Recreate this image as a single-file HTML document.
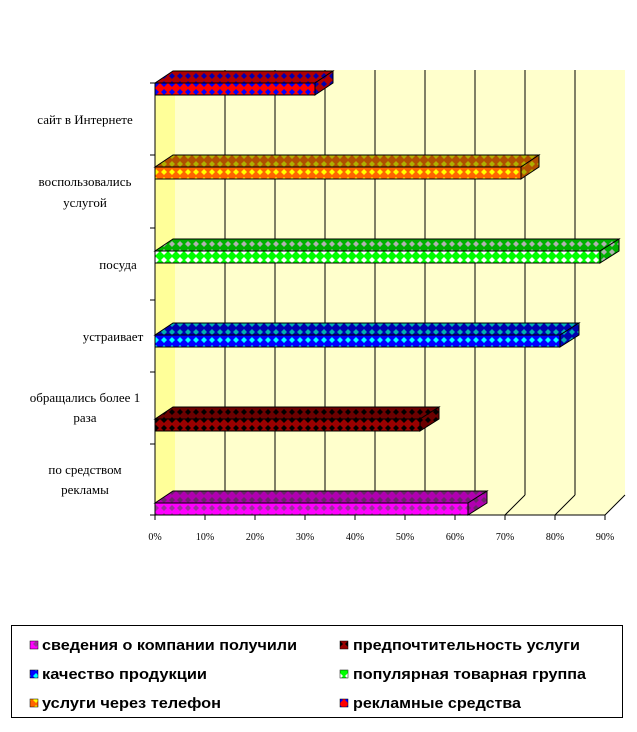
<!DOCTYPE html>
<html><head><meta charset="utf-8"><style>
body{margin:0;background:#fff;width:637px;height:732px;overflow:hidden}
svg{display:block}
.c{font-family:"Liberation Serif",serif;font-size:13px;fill:#000}
.t{font-family:"Liberation Serif",serif;font-size:10px;fill:#000}
.l{font-family:"Liberation Sans",sans-serif;font-size:15px;font-weight:bold;fill:#000}
</style></head><body>
<svg width="637" height="732" viewBox="0 0 637 732">
<defs>
<pattern id="pr" width="8" height="8" patternUnits="userSpaceOnUse"><rect width="8" height="8" fill="#ff0000"/><path d="M4 1L7 4L4 7L1 4Z" fill="#0000ff"/></pattern>
<pattern id="pr2" width="8" height="8" patternUnits="userSpaceOnUse"><rect width="8" height="8" fill="#b00000"/><path d="M4 1L7 4L4 7L1 4Z" fill="#0000b0"/></pattern>
<pattern id="po" width="8" height="8" patternUnits="userSpaceOnUse"><rect width="8" height="8" fill="#ff6600"/><path d="M4 1L7 4L4 7L1 4Z" fill="#ffff00"/></pattern>
<pattern id="po2" width="8" height="8" patternUnits="userSpaceOnUse"><rect width="8" height="8" fill="#b05000"/><path d="M4 1L7 4L4 7L1 4Z" fill="#b0b000"/></pattern>
<pattern id="pg" width="8" height="8" patternUnits="userSpaceOnUse"><rect width="8" height="8" fill="#00ff00"/><path d="M4 1L7 4L4 7L1 4Z" fill="#ffffff"/></pattern>
<pattern id="pg2" width="8" height="8" patternUnits="userSpaceOnUse"><rect width="8" height="8" fill="#00b000"/><path d="M4 1L7 4L4 7L1 4Z" fill="#b0b0b0"/></pattern>
<pattern id="pb" width="8" height="8" patternUnits="userSpaceOnUse"><rect width="8" height="8" fill="#0000ff"/><path d="M4 1L7 4L4 7L1 4Z" fill="#00ffff"/></pattern>
<pattern id="pb2" width="8" height="8" patternUnits="userSpaceOnUse"><rect width="8" height="8" fill="#0000b0"/><path d="M4 1L7 4L4 7L1 4Z" fill="#00b0b0"/></pattern>
<pattern id="pd" width="8" height="8" patternUnits="userSpaceOnUse"><rect width="8" height="8" fill="#990000"/><path d="M4 1L7 4L4 7L1 4Z" fill="#000000"/></pattern>
<pattern id="pd2" width="8" height="8" patternUnits="userSpaceOnUse"><rect width="8" height="8" fill="#6b0000"/><path d="M4 1L7 4L4 7L1 4Z" fill="#000000"/></pattern>
<pattern id="pm" width="8" height="8" patternUnits="userSpaceOnUse"><rect width="8" height="8" fill="#ff00ff"/><path d="M4 1L7 4L4 7L1 4Z" fill="#993399"/></pattern>
<pattern id="pm2" width="8" height="8" patternUnits="userSpaceOnUse"><rect width="8" height="8" fill="#b000b0"/><path d="M4 1L7 4L4 7L1 4Z" fill="#6b246b"/></pattern>
</defs>
<rect x="175" y="70" width="450" height="425" fill="#ffffcc"/>
<polygon points="155,90 175,70 175,495 155,515" fill="#ffff99"/>
<polygon points="155,515 175,495 625,495 605,515" fill="#ffffcc"/>
<g stroke="#000" stroke-width="1">
<line x1="225" y1="70" x2="225" y2="495"/><line x1="225" y1="495" x2="205" y2="515"/>
<line x1="275" y1="70" x2="275" y2="495"/><line x1="275" y1="495" x2="255" y2="515"/>
<line x1="325" y1="70" x2="325" y2="495"/><line x1="325" y1="495" x2="305" y2="515"/>
<line x1="375" y1="70" x2="375" y2="495"/><line x1="375" y1="495" x2="355" y2="515"/>
<line x1="425" y1="70" x2="425" y2="495"/><line x1="425" y1="495" x2="405" y2="515"/>
<line x1="475" y1="70" x2="475" y2="495"/><line x1="475" y1="495" x2="455" y2="515"/>
<line x1="525" y1="70" x2="525" y2="495"/><line x1="525" y1="495" x2="505" y2="515"/>
<line x1="575" y1="70" x2="575" y2="495"/><line x1="575" y1="495" x2="555" y2="515"/>
<line x1="625" y1="495" x2="605" y2="515"/>
<line x1="155" y1="83" x2="155" y2="515"/>
<line x1="155" y1="515" x2="605" y2="515"/>
</g>
<g stroke="#000" stroke-width="1">
<line x1="150" y1="83" x2="155" y2="83"/><line x1="150" y1="155" x2="155" y2="155"/>
<line x1="150" y1="228" x2="155" y2="228"/><line x1="150" y1="300" x2="155" y2="300"/>
<line x1="150" y1="372" x2="155" y2="372"/><line x1="150" y1="444" x2="155" y2="444"/>
<line x1="150" y1="515" x2="155" y2="515"/>
<line x1="155" y1="515" x2="155" y2="520"/><line x1="205" y1="515" x2="205" y2="520"/><line x1="255" y1="515" x2="255" y2="520"/><line x1="305" y1="515" x2="305" y2="520"/><line x1="355" y1="515" x2="355" y2="520"/><line x1="405" y1="515" x2="405" y2="520"/><line x1="455" y1="515" x2="455" y2="520"/><line x1="505" y1="515" x2="505" y2="520"/><line x1="555" y1="515" x2="555" y2="520"/><line x1="605" y1="515" x2="605" y2="520"/>
</g>
<g stroke="#000" stroke-width="1">
<polygon points="155,83 173,71 333,71 315,83" fill="url(#pr2)"/><polygon points="315,83 333,71 333,83 315,95" fill="url(#pr2)"/><rect x="155" y="83" width="160" height="12" fill="url(#pr)"/>
<polygon points="155,167 173,155 539,155 521,167" fill="url(#po2)"/><polygon points="521,167 539,155 539,167 521,179" fill="url(#po2)"/><rect x="155" y="167" width="366" height="12" fill="url(#po)"/>
<polygon points="155,251 173,239 619,239 600,251" fill="url(#pg2)"/><polygon points="600,251 619,239 619,251 600,263" fill="url(#pg2)"/><rect x="155" y="251" width="445" height="12" fill="url(#pg)"/>
<polygon points="155,335 173,323 579,323 560,335" fill="url(#pb2)"/><polygon points="560,335 579,323 579,335 560,347" fill="url(#pb2)"/><rect x="155" y="335" width="405" height="12" fill="url(#pb)"/>
<polygon points="155,419 173,407 439,407 420,419" fill="url(#pd2)"/><polygon points="420,419 439,407 439,419 420,431" fill="url(#pd2)"/><rect x="155" y="419" width="265" height="12" fill="url(#pd)"/>
<polygon points="155,503 173,491 487,491 468,503" fill="url(#pm2)"/><polygon points="468,503 487,491 487,503 468,515" fill="url(#pm2)"/><rect x="155" y="503" width="313" height="12" fill="url(#pm)"/>
</g>
<g class="c" text-anchor="middle">
<text x="85" y="124">сайт в Интернете</text>
<text x="85" y="186">воспользовались</text><text x="85" y="207">услугой</text>
<text x="118" y="269">посуда</text>
<text x="113" y="341">устраивает</text>
<text x="85" y="402">обращались более 1</text><text x="85" y="422">раза</text>
<text x="85" y="474">по средством</text><text x="85" y="494">рекламы</text>
</g>
<g class="t" text-anchor="middle">
<text x="155" y="540">0%</text><text x="205" y="540">10%</text><text x="255" y="540">20%</text><text x="305" y="540">30%</text><text x="355" y="540">40%</text><text x="405" y="540">50%</text><text x="455" y="540">60%</text><text x="505" y="540">70%</text><text x="555" y="540">80%</text><text x="605" y="540">90%</text>
</g>
<rect x="11.5" y="625.5" width="611" height="92" fill="#fff" stroke="#000"/>
<g stroke="#000" stroke-width="0.5">
<rect x="30" y="641" width="8" height="8" fill="url(#pm)"/>
<rect x="340" y="641" width="8" height="8" fill="url(#pd)"/>
<rect x="30" y="670" width="8" height="8" fill="url(#pb)"/>
<rect x="340" y="670" width="8" height="8" fill="url(#pg)"/>
<rect x="30" y="699" width="8" height="8" fill="url(#po)"/>
<rect x="340" y="699" width="8" height="8" fill="url(#pr)"/>
</g>
<g class="l">
<text x="42" y="650" textLength="255" lengthAdjust="spacingAndGlyphs">сведения о компании получили</text>
<text x="353" y="650" textLength="227" lengthAdjust="spacingAndGlyphs">предпочтительность услуги</text>
<text x="42" y="679" textLength="165" lengthAdjust="spacingAndGlyphs">качество продукции</text>
<text x="353" y="679" textLength="233" lengthAdjust="spacingAndGlyphs">популярная товарная группа</text>
<text x="42" y="708" textLength="179" lengthAdjust="spacingAndGlyphs">услуги через телефон</text>
<text x="353" y="708" textLength="168" lengthAdjust="spacingAndGlyphs">рекламные средства</text>
</g>
</svg>
</body></html>
